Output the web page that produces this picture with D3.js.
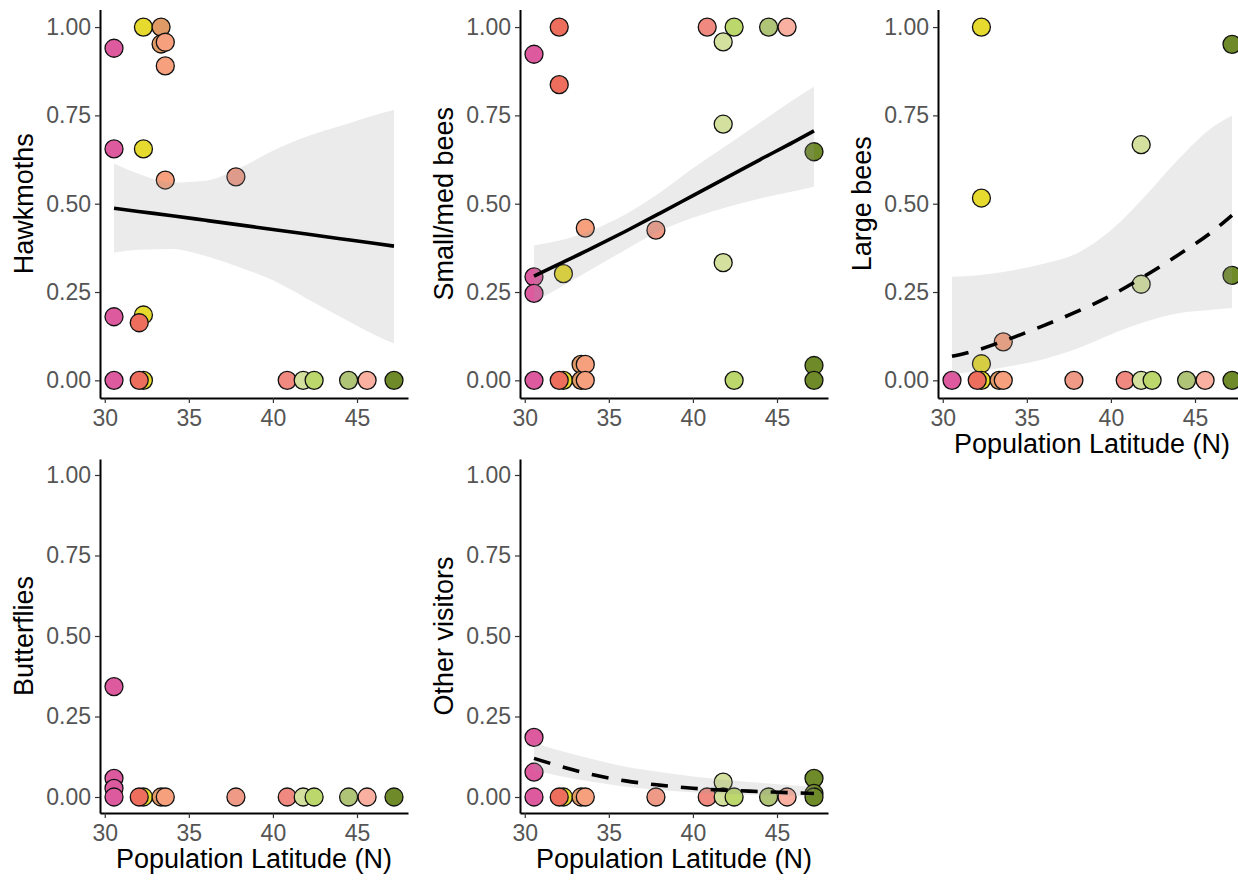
<!DOCTYPE html>
<html>
<head>
<meta charset="utf-8">
<script src="https://cdn.jsdelivr.net/npm/d3@7"></script>
<style>
  body { margin: 0; background: #fff; }
  text { font-family: "Liberation Sans", Arial, sans-serif; }
</style>
</head>
<body>
<svg id="chart"></svg>
<script>
// populations: latitude and fill colour
var popLat = [30.55, 32.05, 32.3, 33.35, 33.6, 37.8, 40.85, 41.8, 42.45, 44.5, 45.6, 47.2];
var popColor = ["#dd5a9f", "#ee6e5e", "#e6da2e", "#e09a66", "#f6a07e", "#ef9a86",
                "#f08a80", "#d3e09e", "#bcd86c", "#afc477", "#f9b0a0", "#6f8a28"];

// [population index, proportion of visits]
var hawkmoths = [[0,0.94],[0,0.655],[0,0.18],[0,0],[2,1],[2,0.655],[2,0.185],[2,0],
  [1,0.163],[1,0],[3,1],[3,0.952],[4,0.957],[4,0.89],[4,0.567],[5,0.576],
  [6,0],[7,0],[8,0],[9,0],[10,0],[11,0]];
var smallBees = [[0,0.923],[0,0.293],[0,0.246],[0,0],[2,0.302],[2,0],[1,1],[1,0.837],[1,0],
  [3,0.045],[3,0],[4,0.431],[4,0.045],[4,0],[5,0.425],[6,1],[7,0.958],[7,0.725],[7,0.333],
  [8,1],[8,0],[9,1],[10,1],[11,0.647],[11,0.042],[11,0]];
var largeBees = [[0,0],[2,1],[2,0.516],[2,0.047],[2,0],[1,0],[3,0],[4,0.109],[4,0],[5,0],
  [6,0],[7,0.667],[7,0.272],[7,0],[8,0],[9,0],[10,0],[11,0.951],[11,0.297],[11,0]];
var butterflies = [[0,0.343],[0,0.058],[0,0.027],[0,0],[2,0],[1,0],[3,0],[4,0],[5,0],
  [6,0],[7,0],[8,0],[9,0],[10,0],[11,0]];
var otherVisitors = [[0,0.185],[0,0.077],[0,0],[2,0],[1,0],[3,0],[4,0],[5,0],[6,0],
  [7,0.046],[7,0],[8,0],[9,0],[10,0],[11,0.058],[11,0.011],[11,0]];

// fitted curves and 95% bands
var fitLat = [30.55, 32, 34, 36, 38, 40, 42, 44, 46, 47.2];
var hawkFit = [0.487, 0.478, 0.466, 0.453, 0.440, 0.427, 0.414, 0.401, 0.388, 0.380];
var hawkLo  = [0.362, 0.370, 0.372, 0.352, 0.320, 0.283, 0.232, 0.180, 0.130, 0.104];
var hawkHi  = [0.614, 0.585, 0.560, 0.565, 0.600, 0.650, 0.690, 0.720, 0.750, 0.765];
var smallFit = [0.295, 0.328, 0.374, 0.422, 0.472, 0.523, 0.574, 0.625, 0.675, 0.706];
var smallLo  = [0.222, 0.260, 0.315, 0.370, 0.422, 0.460, 0.490, 0.515, 0.535, 0.548];
var smallHi  = [0.382, 0.395, 0.425, 0.470, 0.530, 0.600, 0.665, 0.730, 0.795, 0.831];
var largeFit = [0.068, 0.085, 0.118, 0.155, 0.195, 0.240, 0.295, 0.355, 0.420, 0.467];
var largeLo  = [0.018, 0.025, 0.040, 0.060, 0.090, 0.130, 0.165, 0.190, 0.200, 0.205];
var largeHi  = [0.293, 0.297, 0.310, 0.330, 0.360, 0.425, 0.520, 0.625, 0.715, 0.750];
var otherFit = [0.120, 0.097, 0.070, 0.050, 0.037, 0.027, 0.021, 0.017, 0.013, 0.011];
var otherLo  = [0.084, 0.066, 0.047, 0.032, 0.022, 0.015, 0.009, 0.006, 0.004, 0.003];
var otherHi  = [0.167, 0.145, 0.118, 0.094, 0.078, 0.064, 0.053, 0.044, 0.036, 0.032];

var yTicks = [0, 0.25, 0.5, 0.75, 1];
var xTicks = [30, 35, 40, 45];

var width = 1238, height = 882;
var svg = d3.select("#chart").attr("width", width).attr("height", height);
svg.append("rect").attr("width", width).attr("height", height).attr("fill", "#fff");

var panels = [
  { label: "Hawkmoths", pts: hawkmoths, fit: hawkFit, lo: hawkLo, hi: hawkHi, dashed: false,
    left: 100, top: 9.4, h: 388.6, xTitle: false },
  { label: "Small/med bees", pts: smallBees, fit: smallFit, lo: smallLo, hi: smallHi, dashed: false,
    left: 520, top: 9.4, h: 388.6, xTitle: false },
  { label: "Large bees", pts: largeBees, fit: largeFit, lo: largeLo, hi: largeHi, dashed: true,
    left: 938, top: 9.4, h: 388.6, xTitle: true },
  { label: "Butterflies", pts: butterflies, fit: null,
    left: 100, top: 458.9, h: 354.2, xTitle: true },
  { label: "Other visitors", pts: otherVisitors, fit: otherFit, lo: otherLo, hi: otherHi, dashed: true,
    left: 520, top: 458.9, h: 354.2, xTitle: true }
];
var panelW = 308;

// ggplot style 5% expansion
var ext = d3.extent(popLat);
var pad = (ext[1] - ext[0]) * 0.05;

panels.forEach(function(p) {
  var g = svg.append("g").attr("transform", "translate(" + p.left + "," + p.top + ")");

  var x = d3.scaleLinear().domain([ext[0] - pad, ext[1] + pad]).range([0, panelW]);
  var y = d3.scaleLinear().domain([-0.05, 1.05]).range([p.h, 0]);

  // points
  g.append("g").selectAll("circle")
    .data(p.pts)
    .enter()
    .append("circle")
    .attr("cx", function(d) { return x(popLat[d[0]]); })
    .attr("cy", function(d) { return y(d[1]); })
    .attr("r", 9)
    .attr("fill", function(d) { return popColor[d[0]]; })
    .attr("stroke", "#111")
    .attr("stroke-width", 1.3);

  if (p.fit) {
    var band = fitLat.map(function(v, i) { return { lat: v, fit: p.fit[i], lo: p.lo[i], hi: p.hi[i] }; });
    var area = d3.area()
      .curve(d3.curveMonotoneX)
      .x(function(d) { return x(d.lat); })
      .y0(function(d) { return y(d.lo); })
      .y1(function(d) { return y(d.hi); });
    g.append("path").datum(band)
      .attr("d", area)
      .attr("fill", "#999")
      .attr("fill-opacity", 0.2);

    var line = d3.line()
      .curve(d3.curveMonotoneX)
      .x(function(d) { return x(d.lat); })
      .y(function(d) { return y(d.fit); });
    g.append("path").datum(band)
      .attr("d", line)
      .attr("fill", "none")
      .attr("stroke", "#000")
      .attr("stroke-width", 3.6)
      .attr("stroke-dasharray", p.dashed ? "17,13" : null);
  }

  // axes
  var xAxis = g.append("g")
    .attr("transform", "translate(0," + p.h + ")")
    .call(d3.axisBottom(x).tickValues(xTicks).tickSize(5).tickSizeOuter(0).tickPadding(7));
  var yAxis = g.append("g")
    .call(d3.axisLeft(y).tickValues(yTicks).tickFormat(d3.format(".2f"))
      .tickSize(5).tickSizeOuter(0).tickPadding(4));

  [xAxis, yAxis].forEach(function(a) {
    a.select(".domain").attr("stroke", "#000").attr("stroke-width", 2);
    a.selectAll(".tick line").attr("stroke", "#333").attr("stroke-width", 1.2);
    a.selectAll(".tick text")
      .attr("fill", "#555")
      .style("font-size", "23px")
      .style("font-family", "'Liberation Sans', Arial, sans-serif");
  });

  // y title
  g.append("text")
    .attr("transform", "rotate(-90)")
    .attr("x", -p.h / 2)
    .attr("y", -67)
    .attr("text-anchor", "middle")
    .style("font-size", "27px")
    .attr("fill", "#000")
    .text(p.label);

  if (p.xTitle) {
    g.append("text")
      .attr("x", panelW / 2)
      .attr("y", p.h + 55)
      .attr("text-anchor", "middle")
      .style("font-size", "27px")
      .attr("fill", "#000")
      .text("Population Latitude (N)");
  }
});
</script>
</body>
</html>
